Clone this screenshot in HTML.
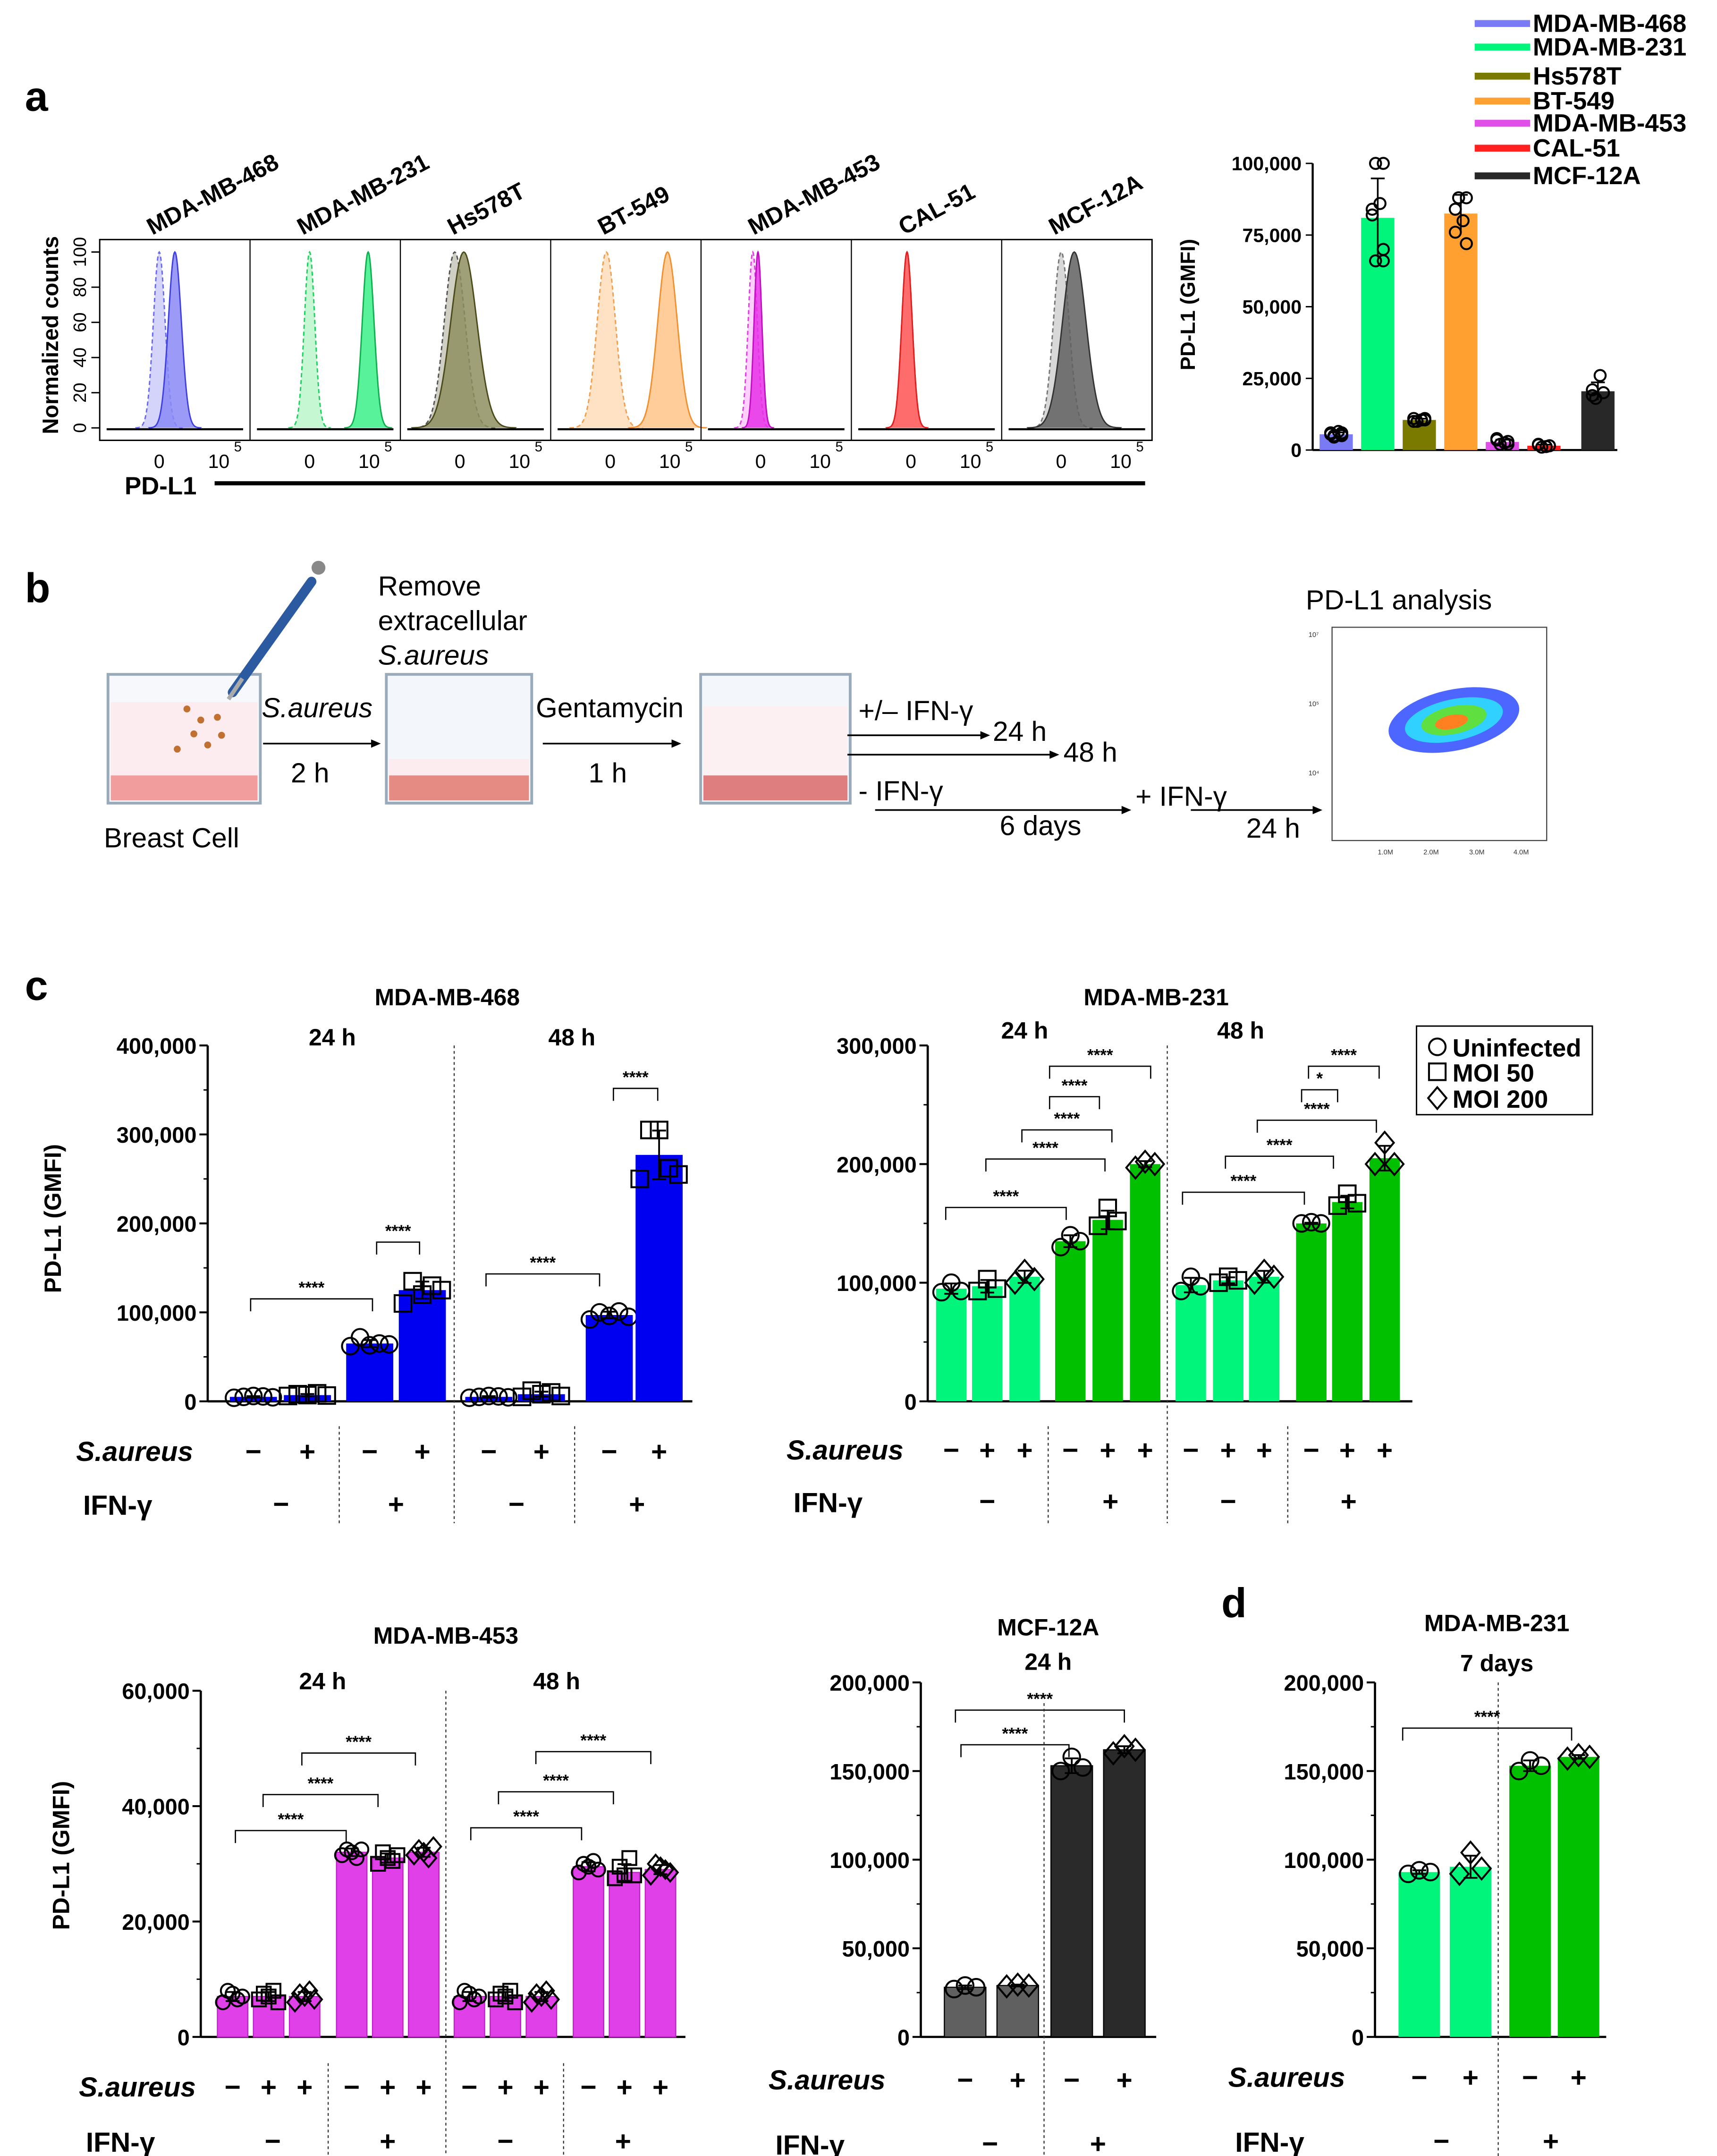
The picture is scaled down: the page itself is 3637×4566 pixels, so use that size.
<!DOCTYPE html>
<html><head><meta charset="utf-8"><style>
html,body{margin:0;padding:0;background:#fff}
svg{display:block}
text{font-family:"Liberation Sans",Arial,sans-serif}
.b{font-weight:bold}
</style></head><body>
<svg id="fig" xmlns="http://www.w3.org/2000/svg" width="3637" height="4566" viewBox="0 0 1240 1557" preserveAspectRatio="none">
<rect width="1240" height="1557" fill="#fff"/>
<!-- panel letters -->
<text x="18" y="80" font-size="30" class="b">a</text>
<text x="18" y="435" font-size="30" class="b">b</text>
<text x="18" y="722" font-size="30" class="b">c</text>
<text x="882" y="1168" font-size="30" class="b">d</text>

<!-- panel b schematic -->
<g font-size="20">
 <g>
  <rect x="78" y="487" width="110" height="93" fill="#f6f8fc" stroke="#9ab" stroke-width="2"/>
  <rect x="80" y="507" width="106" height="71" fill="#fcecef"/>
  <rect x="80" y="560" width="106" height="18" fill="#e88" opacity="0.8"/>
  <g fill="#c07030"><circle cx="135" cy="512" r="2.5"/><circle cx="145" cy="520" r="2.5"/><circle cx="157" cy="518" r="2.5"/><circle cx="140" cy="530" r="2.5"/><circle cx="150" cy="538" r="2.5"/><circle cx="128" cy="541" r="2.5"/><circle cx="160" cy="531" r="2.5"/></g>
 </g>
 <g>
  <line x1="168" y1="500" x2="225" y2="420" stroke="#2c5aa0" stroke-width="7" stroke-linecap="round"/>
  <line x1="165" y1="505" x2="175" y2="490" stroke="#aaa" stroke-width="3"/>
  <circle cx="230" cy="410" r="5" fill="#888"/>
 </g>
 <text x="75" y="612">Breast Cell</text>
 <text x="189" y="518" font-style="italic">S.aureus</text>
 <text x="210" y="565">2 h</text>
 <line x1="190" y1="537" x2="272" y2="537" stroke="#000" stroke-width="1.2"/><path d="M275 537 l-7 -3 v6z"/>
 <g>
  <rect x="279" y="487" width="105" height="93" fill="#f3f6fb" stroke="#9ab" stroke-width="2"/>
  <rect x="281" y="548" width="101" height="30" fill="#fcecef"/>
  <rect x="281" y="560" width="101" height="18" fill="#e07a70" opacity="0.85"/>
 </g>
 <text x="273" y="430">Remove</text>
 <text x="273" y="455">extracellular</text>
 <text x="273" y="480" font-style="italic">S.aureus</text>
 <text x="387" y="518">Gentamycin</text>
 <text x="425" y="565">1 h</text>
 <line x1="392" y1="537" x2="489" y2="537" stroke="#000" stroke-width="1.2"/><path d="M492 537 l-7 -3 v6z"/>
 <g>
  <rect x="506" y="487" width="108" height="93" fill="#f3f6fb" stroke="#9ab" stroke-width="2"/>
  <rect x="508" y="510" width="104" height="68" fill="#fcf0f2"/>
  <rect x="508" y="560" width="104" height="18" fill="#d86a6a" opacity="0.85"/>
 </g>
 <text x="620" y="520">+/– IFN-γ</text>
 <line x1="612" y1="531" x2="712" y2="531" stroke="#000" stroke-width="1.2"/><path d="M715 531 l-7 -3 v6z"/>
 <text x="717" y="535">24 h</text>
 <line x1="612" y1="545" x2="762" y2="545" stroke="#000" stroke-width="1.2"/><path d="M765 545 l-7 -3 v6z"/>
 <text x="768" y="550">48 h</text>
 <text x="620" y="578">- IFN-γ</text>
 <line x1="632" y1="585" x2="814" y2="585" stroke="#000" stroke-width="1.2"/><path d="M817 585 l-7 -3 v6z"/>
 <text x="722" y="603">6 days</text>
 <text x="820" y="582">+ IFN-γ</text>
 <line x1="860" y1="585" x2="952" y2="585" stroke="#000" stroke-width="1.2"/><path d="M955 585 l-7 -3 v6z"/>
 <text x="900" y="605">24 h</text>
 <text x="943" y="440">PD-L1 analysis</text>
 <g>
  <rect x="962" y="453" width="155" height="154" fill="#fff" stroke="#444" stroke-width="0.8"/>
  <ellipse cx="1050" cy="520" rx="48" ry="22" fill="#2040ff" opacity="0.8" transform="rotate(-12 1050 520)"/>
  <ellipse cx="1050" cy="520" rx="36" ry="15" fill="#30d0ff" transform="rotate(-12 1050 520)"/>
  <ellipse cx="1050" cy="520" rx="24" ry="10" fill="#60e040" transform="rotate(-12 1050 520)"/>
  <ellipse cx="1048" cy="521" rx="12" ry="5" fill="#ff8020" transform="rotate(-12 1050 520)"/>
  <g font-size="5" fill="#333"><text x="995" y="617">1.0M</text><text x="1028" y="617">2.0M</text><text x="1061" y="617">3.0M</text><text x="1093" y="617">4.0M</text><text x="945" y="460">10⁷</text><text x="945" y="510">10⁵</text><text x="945" y="560">10⁴</text></g>
 </g>
</g>
<g id="charts"></g>
</svg>
<script>
// ---------- DATA ----------
const histNames=["MDA-MB-468","MDA-MB-231","Hs578T","BT-549","MDA-MB-453","CAL-51","MCF-12A"];
const histCtrlPeak=[0,0,-0.4,-0.3,-0.6,-0.3,0];
const histSamplePeak=[1.2,4.5,0.3,4.4,-0.2,-0.3,1.0];
const histCtrlWidth=[0.45,0.4,0.8,0.7,0.35,0.4,0.6];
const histSampleWidth=[0.5,0.45,1.0,0.75,0.3,0.4,0.9];
const histYTicks=[0,20,40,60,80,100];

const aCats=["MDA-MB-468","MDA-MB-231","Hs578T","BT-549","MDA-MB-453","CAL-51","MCF-12A"];
const aValues=[5500,81000,10500,82500,2800,1500,20500];
const aReps=[[4500,5000,6000,6500,5500,6000,5000,5500],[100000,100000,84000,86000,82000,70000,66000,66000],[10000,10500,11000,10500,10000,11000],[88000,88000,84000,80000,76000,72000],[2000,3000,4000,2500,3500,2000],[1000,1500,2000,1200,1800,1500],[18000,20000,21000,26000,19000]];
const aTicks=[0,25000,50000,75000,100000];

const c468Values=[5000,7000,65000,125000,5000,8000,97000,277000];
const c468Reps=[[4000,5000,6000,5500,4500],[6000,8000,7000,9000,6500],[62000,72000,63000,65000,64000],[110000,135000,120000,130000,125000],[4000,5000,6000,5500,4500],[5000,12000,8000,10000,6000],[92000,100000,96000,101000,95000],[250000,305000,305000,262000,255000]];
const c468Ticks=[0,100000,200000,300000,400000];

const c231Values=[95000,97000,105000,135000,153000,200000,98000,102000,105000,150000,168000,205000];
const c231Reps=[[92000,100000,93000],[93000,103000,95000],[100000,110000,103000],[130000,140000,135000],[148000,163000,152000],[197000,202000,200000],[93000,105000,97000],[100000,105000,102000],[100000,110000,105000],[150000,151000,150000],[165000,175000,167000],[200000,218000,200000]];
const c231Ticks=[0,100000,200000,300000];

const c453Values=[7000,7000,7000,32000,31000,32000,7000,7000,7000,29500,28500,29000];
const c453Reps=[[6000,8000,7500,6500,7000],[6500,7500,7000,8000,6000],[6000,7500,7000,8000,6500],[31500,32500,32000,31000,32500],[30000,32000,31000,30500,31500],[31500,32500,32000,31000,33000],[6000,8000,7500,6500,7000],[6500,7500,7000,8000,6000],[6000,7500,7000,8000,6500],[28500,30000,29500,30500,29000],[27500,29500,28000,31000,28000],[28000,30000,29500,29000,28500]];
const c453Ticks=[0,20000,40000,60000];

const mcfValues=[28000,29000,153000,162000];
const mcfReps=[[27000,29000,28000],[28500,29500,29000],[150000,158000,152000],[160000,164000,162000]];
const mcfTicks=[0,50000,100000,150000,200000];

const dValues=[93000,96000,153000,158000];
const dReps=[[92000,94000,93000],[92000,104000,95000],[150000,156000,153000],[157000,159000,158000]];
const dTicks=[0,50000,100000,150000,200000];

// ---------- HELPERS ----------
const NS="http://www.w3.org/2000/svg";
const root=document.getElementById('charts');
function mk(tag,attrs,parent){const e=document.createElementNS(NS,tag);for(const k in attrs)e.setAttribute(k,attrs[k]);(parent||root).appendChild(e);return e;}
function txt(s,attrs,parent){const e=mk('text',attrs,parent);e.textContent=s;return e;}
function fmt(v){return v.toLocaleString('en-US');}
function mean(a){return a.reduce((s,x)=>s+x,0)/a.length;}
function sd(a){const m=mean(a);return Math.sqrt(a.reduce((s,x)=>s+(x-m)*(x-m),0)/(a.length-1));}
function marker(shape,x,y,r,g){
  let e;
  if(shape==='c'){e=mk('circle',{cx:x,cy:y,r:r,fill:'none',stroke:'#000','stroke-width':1.4},g);}
  else if(shape==='s'){e=mk('rect',{x:x-r,y:y-r,width:2*r,height:2*r,fill:'none',stroke:'#000','stroke-width':1.4},g);}
  else {e=mk('path',{d:`M${x} ${y-r*1.3} L${x+r*1.1} ${y} L${x} ${y+r*1.3} L${x-r*1.1} ${y}Z`,fill:'none',stroke:'#000','stroke-width':1.4},g);}
  
  
}

// generic bar chart
function barChart(cfg){
  const g=mk('g',{});
  
  
  const ys=v=>cfg.y0-(v/cfg.max)*(cfg.y0-cfg.y1);
  // axes
  const ya=mk('line',{x1:cfg.ax,y1:cfg.y1,x2:cfg.ax,y2:cfg.y0,stroke:'#000','stroke-width':1.6},g);
  
  
  const xa=mk('line',{x1:cfg.ax,y1:cfg.y0,x2:cfg.xEnd,y2:cfg.y0,stroke:'#000','stroke-width':1.6},g);
  
  
  cfg.ticks.forEach((t,i)=>{
    const y=ys(t);
    mk('line',{x1:cfg.ax-6,y1:y,x2:cfg.ax,y2:y,stroke:'#000','stroke-width':1.4},g);
    const tl=txt(fmt(t),{x:cfg.ax-8,y:y+6,'text-anchor':'end','font-size':cfg.fs||16,'font-weight':'bold'},g);
    
    
    if(i<cfg.ticks.length-1){const ym=ys((t+cfg.ticks[i+1])/2);mk('line',{x1:cfg.ax-3,y1:ym,x2:cfg.ax,y2:ym,stroke:'#000','stroke-width':1},g);}
  });
  cfg.values.forEach((v,i)=>{
    const cx=cfg.cx[i],w=cfg.bw;
    const r=mk('rect',{x:cx-w/2,y:ys(v),width:w,height:cfg.y0-ys(v),fill:cfg.colors[i],stroke:cfg.stroke||'none','stroke-width':0.8},g);
    
    
    const reps=cfg.reps[i],s=sd(reps);
    const eb=mk('path',{d:`M${cx} ${ys(v-s)} V${ys(v+s)} M${cx-5} ${ys(v+s)} H${cx+5} M${cx-5} ${ys(v-s)} H${cx+5}`,stroke:'#000','stroke-width':1.3,fill:'none'},g);
    
    
    const n=reps.length;
    reps.forEach((rv,j)=>{const off=n>1?(j-(n-1)/2)*(cfg.spread||w*0.7)/(n-1):0;marker(cfg.shapes[i],cx+off,ys(rv),cfg.mr||5,g);});
  });
  (cfg.brackets||[]).forEach(b=>{
    const y=b[2];
    const p=mk('path',{d:`M${b[0]} ${y+9} V${y} H${b[1]} V${y+9}`,stroke:'#000','stroke-width':0.9,fill:'none'},g);
    
    
    const st=txt(b[3],{x:(b[0]+b[1])/2,y:y-4,'text-anchor':'middle','font-size':12,'font-weight':'bold'},g);
    
    
  });
  // sign rows
  const sl=txt('S.aureus',{x:cfg.rowLabelX,y:cfg.sRowY+7,'font-size':20,'font-weight':'bold','font-style':'italic'},g);
  
  
  cfg.sSigns.forEach((s,i)=>{const t=txt(s,{x:cfg.cx[i],y:cfg.sRowY+7,'text-anchor':'middle','font-size':20,'font-weight':'bold'},g);
    
    });
  const il=txt('IFN-γ',{x:cfg.rowLabelX+5,y:cfg.iRowY+8,'font-size':20,'font-weight':'bold'},g);
  
  
  cfg.iSigns.forEach(s=>{const t=txt(s[1],{x:s[0],y:cfg.iRowY+7,'text-anchor':'middle','font-size':20,'font-weight':'bold'},g);
    
    });
  (cfg.dividers||[]).forEach(d=>{const l=mk('line',{x1:d[0],y1:d[1],x2:d[0],y2:d[2],stroke:'#333','stroke-width':0.8,'stroke-dasharray':'2,2'},g);
    
    });
  (cfg.titles||[]).forEach(t=>{const e=txt(t[2],{x:t[0],y:t[1],'text-anchor':'middle','font-size':t[3]||17,'font-weight':'bold'},g);
    
    });
  if(cfg.ylabel){const e=txt('PD-L1 (GMFI)',{x:0,y:0,'text-anchor':'middle','font-size':17,'font-weight':'bold',transform:`translate(${cfg.ylabel[0]},${cfg.ylabel[1]}) rotate(-90)`},g);
    
    }
  return g;
}

// ---------- PANEL A: histograms ----------
(function(){
  const g=mk('g',{});
  
  
  const X0=72,PW=108.57,top=173,base=318;
  const yv=v=>309-v*1.27;
  mk('rect',{x:X0,y:top,width:PW*7,height:base-top,fill:'none',stroke:'#000','stroke-width':1},g);
  const ux=(i,u)=>X0+i*PW+43+u*9.4;
  histNames.forEach((nm,i)=>{
    if(i>0)mk('line',{x1:X0+i*PW,y1:top,x2:X0+i*PW,y2:base,stroke:'#000','stroke-width':0.8},g);
    const curve=(c,w)=>{let d=`M${ux(i,c-4*w)} ${yv(0)}`;for(let k=-40;k<=40;k++){const u=c+k*w/10;const v=100*Math.exp(-0.5*(k/10)*(k/10));d+=` L${ux(i,u)} ${yv(v)}`;}return d+` L${ux(i,c+4*w)} ${yv(0)}`;};
    const ctrlCols=['#d4d4fa','#c4f7d2','#cfcfc4','#ffe2c4','#ffd0ff','#ff9a9a','#d8d8d8'];
    const ctrlStroke=['#6a6af0','#20d060','#555','#f0a050','#e040e0','#f03030','#777'];
    const sCols=['#8a8af6','#3af088','#8f8f60','#ffc488','#e830e8','#ff6464','#606060'];
    const sStroke=['#4040e0','#10b050','#4a4a1a','#f09030','#c010c0','#e02020','#333'];
    const c=mk('path',{d:curve(histCtrlPeak[i],histCtrlWidth[i]),fill:ctrlCols[i],stroke:ctrlStroke[i],'stroke-width':1,'stroke-dasharray':'3,2'},g);
    
    
    const s=mk('path',{d:curve(histSamplePeak[i],histSampleWidth[i]),fill:sCols[i],'fill-opacity':0.85,stroke:sStroke[i],'stroke-width':1},g);
    
    
    mk('line',{x1:X0+i*PW+5,y1:310,x2:X0+(i+1)*PW-5,y2:310,stroke:'#000','stroke-width':1.5},g);
    const t0=txt('0',{x:ux(i,0),y:338,'text-anchor':'middle','font-size':14},g);
    
    
    const t5=txt('10',{x:ux(i,5)-4,y:338,'text-anchor':'middle','font-size':14},g);
    
    
    txt('5',{x:ux(i,5)+7,y:326,'font-size':10},g);
    const lbl=txt(nm,{x:0,y:0,'font-size':17,'font-weight':'bold',transform:`translate(${X0+i*PW+38},${170}) rotate(-28)`},g);
    
    
  });
  histYTicks.forEach(t=>{mk('line',{x1:66,y1:yv(t),x2:72,y2:yv(t),stroke:'#000'},g);
    const e=txt(String(t),{x:0,y:0,'font-size':13,'text-anchor':'middle',transform:`translate(${62},${yv(t)}) rotate(-90)`},g);
    
    });
  const yl=txt('Normalized counts',{x:0,y:0,'font-size':16,'font-weight':'bold','text-anchor':'middle',transform:'translate(42,242) rotate(-90)'},g);
  
  
  const xl=txt('PD-L1',{x:90,y:357,'font-size':18,'font-weight':'bold'},g);
  
  
  mk('line',{x1:155,y1:349,x2:827,y2:349,stroke:'#000','stroke-width':3},g);
})();

// ---------- PANEL A: bar chart ----------
(function(){
  const g=mk('g',{});
  
  
  const ax=948,y0=325,y1=118;const ys=v=>y0-v/100000*(y0-y1);
  const cx=[965,995,1025,1055,1085,1115,1154];
  const cols=['#7a7af5','#00f57a','#7a7a00','#ffa030','#e050e8','#ff2020','#282828'];
  mk('line',{x1:ax,y1:y1,x2:ax,y2:y0,stroke:'#000','stroke-width':1.5},g);
  mk('line',{x1:ax,y1:y0,x2:1168,y2:y0,stroke:'#000','stroke-width':1.5},g);
  aTicks.forEach(t=>{mk('line',{x1:ax-5,y1:ys(t),x2:ax,y2:ys(t),stroke:'#000'},g);
    const e=txt(fmt(t),{x:ax-8,y:ys(t)+5,'text-anchor':'end','font-size':14,'font-weight':'bold'},g);
    
    });
  aValues.forEach((v,i)=>{
    const r=mk('rect',{x:cx[i]-12,y:ys(v),width:24,height:y0-ys(v),fill:cols[i]},g);
    
    
    const s=sd(aReps[i]);
    mk('path',{d:`M${cx[i]} ${ys(v-s)} V${ys(v+s)} M${cx[i]-5} ${ys(v+s)} H${cx[i]+5}`,stroke:'#000','stroke-width':1.2,fill:'none'},g);
    const n=aReps[i].length;
    aReps[i].forEach((rv,j)=>marker('c',cx[i]+(j%2?4:-4)*(j%3?1:0.4),ys(rv),4,g));
  });
  const yl=txt('PD-L1 (GMFI)',{x:0,y:0,'font-size':15,'font-weight':'bold','text-anchor':'middle',transform:'translate(863,220) rotate(-90)'},g);
  
  
  const ly=[17,34,55,73,89,107,127];
  aCats.forEach((c,i)=>{
    mk('line',{x1:1065,y1:ly[i],x2:1105,y2:ly[i],stroke:cols[i],'stroke-width':5},g);
    const t=txt(c,{x:1107,y:ly[i]+6,'font-size':18,'font-weight':'bold'},g);
    
    
  });
})();

// ---------- PANEL C ----------
const B='#0000f0',LG='#00f57a',DG='#00c000',MG='#e040e8',GR='#606060',BK='#2a2a2a';
barChart({name:'mda-mb-468-chart',ax:150,y0:1012,y1:755,max:400000,xEnd:500,ticks:c468Ticks,
  values:c468Values,reps:c468Reps,cx:[183,222,267,305,353,391,440,476],bw:34,mr:6,spread:28,
  colors:[B,B,B,B,B,B,B,B],shapes:['c','s','c','s','c','s','c','s'],
  brackets:[[181,269,938,'****'],[272,303,897,'****'],[351,433,920,'****'],[443,475,786,'****']],
  rowLabelX:55,sRowY:1048,iRowY:1086,sSigns:['−','+','−','+','−','+','−','+'],
  iSigns:[[203,'−'],[286,'+'],[373,'−'],[460,'+']],
  dividers:[[328,755,1100],[245,1030,1100],[415,1030,1100]],
  titles:[[323,726,'MDA-MB-468'],[240,755,'24 h'],[413,755,'48 h']],ylabel:[44,880]});

barChart({name:'mda-mb-231-chart',ax:670,y0:1012,y1:755,max:300000,xEnd:1020,ticks:c231Ticks,
  values:c231Values,reps:c231Reps,cx:[687,713,740,773,800,827,860,887,913,947,973,1000],bw:22,mr:6,spread:14,
  colors:[LG,LG,LG,DG,DG,DG,LG,LG,LG,DG,DG,DG],shapes:['c','s','d','c','s','d','c','s','d','c','s','d'],
  brackets:[[683,770,872,'****'],[712,798,837,'****'],[738,803,816,'****'],[758,794,792,'****'],[758,831,770,'****'],
            [854,942,861,'****'],[885,963,835,'****'],[908,994,809,'****'],[940,966,787,'*'],[945,996,770,'****']],
  rowLabelX:568,sRowY:1047,iRowY:1084,sSigns:['−','+','+','−','+','+','−','+','+','−','+','+'],
  iSigns:[[713,'−'],[802,'+'],[887,'−'],[974,'+']],
  dividers:[[843,755,1100],[757,1030,1100],[930,1030,1100]],
  titles:[[835,726,'MDA-MB-231'],[740,750,'24 h'],[896,750,'48 h']]});

// legend c
(function(){
  const g=mk('g',{});
  
  
  mk('rect',{x:1023,y:741,width:127,height:64,fill:'#fff',stroke:'#000','stroke-width':1},g);
  marker('c',1038,756,6,g);marker('s',1038,774,6,g);marker('d',1038,793,6,g);
  [['Uninfected',756],['MOI 50',774],['MOI 200',793]].forEach(l=>{const t=txt(l[0],{x:1049,y:l[1]+7,'font-size':18,'font-weight':'bold'},g);
    
    });
})();

barChart({name:'mda-mb-453-chart',ax:145,y0:1471,y1:1221,max:60000,xEnd:495,ticks:c453Ticks,
  values:c453Values,reps:c453Reps,cx:[168,194,220,254,280,306,339,365,391,425,451,477],bw:22,mr:5,spread:14,
  colors:Array(12).fill(MG),shapes:['c','s','d','c','s','d','c','s','d','c','s','d'],stroke:'#c020c8',
  brackets:[[170,250,1322,'****'],[190,273,1296,'****'],[218,300,1266,'****'],[340,420,1320,'****'],[360,443,1294,'****'],[387,470,1265,'****']],
  rowLabelX:57,sRowY:1507,iRowY:1546,sSigns:['−','+','+','−','+','+','−','+','+','−','+','+'],
  iSigns:[[197,'−'],[280,'+'],[365,'−'],[450,'+']],
  dividers:[[322,1221,1560],[237,1490,1560],[407,1490,1560]],
  titles:[[322,1187,'MDA-MB-453'],[233,1220,'24 h'],[402,1220,'48 h']],ylabel:[50,1340]});

barChart({name:'mcf-12a-chart',ax:665,y0:1471,y1:1215,max:200000,xEnd:835,ticks:mcfTicks,
  values:mcfValues,reps:mcfReps,cx:[697,735,774,812],bw:30,mr:6,spread:16,
  colors:[GR,GR,BK,BK],shapes:['c','d','c','d'],stroke:'#000',
  brackets:[[694,772,1260,'****'],[690,812,1235,'****']],
  rowLabelX:555,sRowY:1502,iRowY:1548,sSigns:['−','+','−','+'],
  iSigns:[[715,'−'],[793,'+']],
  dividers:[[754,1230,1560]],
  titles:[[757,1181,'MCF-12A'],[757,1206,'24 h']]});

barChart({name:'d-mda-mb-231-7days-chart',ax:993,y0:1471,y1:1215,max:200000,xEnd:1160,ticks:dTicks,
  values:dValues,reps:dReps,cx:[1025,1062,1105,1140],bw:30,mr:6,spread:16,
  colors:[LG,LG,DG,DG],shapes:['c','d','c','d'],
  brackets:[[1013,1135,1248,'****']],
  rowLabelX:887,sRowY:1500,iRowY:1546,sSigns:['−','+','−','+'],
  iSigns:[[1041,'−'],[1120,'+']],
  dividers:[[1082,1215,1560]],
  titles:[[1081,1178,'MDA-MB-231'],[1081,1207,'7 days']]});
</script>
</body></html>
